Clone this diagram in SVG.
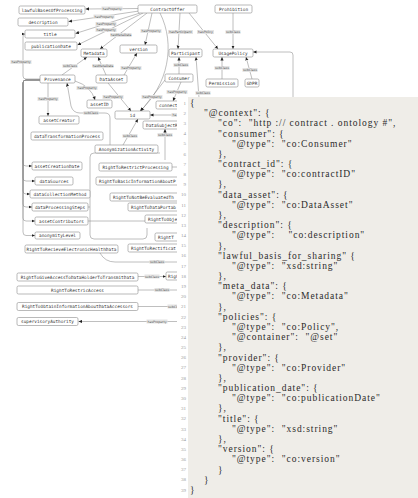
<svg xmlns="http://www.w3.org/2000/svg" width="418" height="498" viewBox="0 0 418 498">
<defs>
<marker id="arr" markerUnits="userSpaceOnUse" markerWidth="4" markerHeight="4" refX="3.5" refY="2" orient="auto"><path d="M0,0.4 L3.5,2 L0,3.6 z" fill="#222"/></marker>
<style>
.n rect{fill:#fff;stroke:#8c8c8c;stroke-width:0.6}
.n text{font-family:"DejaVu Sans Mono",monospace;font-size:4.4px;fill:#333;text-anchor:middle;dominant-baseline:central}
.n text.cut{text-anchor:start}
.e path{fill:none;stroke:#8a8a8a;stroke-width:0.55;marker-end:url(#arr)}
.e path.plain{marker-end:none}
.l rect{fill:#e4e4e4}
.l text{font-family:"DejaVu Sans",sans-serif;font-size:3.2px;fill:#555;text-anchor:middle;dominant-baseline:central}
.code text{font-family:"Liberation Serif",serif;font-size:9.5px;fill:#2b2b2b;letter-spacing:0.95px;white-space:pre}
.ln text{font-family:"Liberation Serif",serif;font-size:5px;fill:#9a9a9a;text-anchor:end}
</style>
</defs>
<rect width="418" height="498" fill="#fff"/>

<!-- connectors -->
<g id="connectors" class="e">
<path d="M138,8.5 L85.5,9"/>
<path d="M139,11 L68.5,21.5"/>
<path d="M140,13 L75.5,33.5"/>
<path d="M143,13 L77.5,45"/>
<path d="M147,13 L100,49"/>
<path d="M152,13 L145,45"/>
<path d="M180,13 L178,49"/>
<path d="M189,13 L218,49"/>
<path d="M160,13 C176,45 168,85 140,111"/>
<path d="M233,13 L233,49"/>
<path d="M222,79 L222,57"/>
<path d="M252,79 L246,57"/>
<path d="M293,98 L293,55 Q293,52 290,52 L253,52"/>
<path d="M179,74 L179,57"/>
<path d="M199,98 L196,57"/>
<path d="M165,80 L141,111"/>
<path d="M181,82 L173,101"/>
<path d="M178,115 L150,115"/>
<path d="M106,75 L98,57"/>
<path d="M62,75 L87,57"/>
<path d="M124,75 L137,53"/>
<path d="M75,81 Q91,86 95,100"/>
<path d="M108,83 L131,111"/>
<path d="M48,83 L48,116"/>
<path d="M110,145 L110,118 Q110,113 105,113 L80,113 Q73,113 71,106 L67,83"/>
<path d="M40,79 L26,79 Q23,79 23,76 L23,37 Q23,34 25,34"/>
<path d="M40,80 L26,80 Q23,80 23,83 L23,163 Q23,166 26,166 L32,166"/>
<path d="M40,80 L26,80 Q23,80 23,83 L23,178 Q23,181 26,181 L35,181"/>
<path d="M40,80 L26,80 Q23,80 23,83 L23,191 Q23,194 26,194 L30,194"/>
<path d="M40,80 L26,80 Q23,80 23,83 L23,204 Q23,207 26,207 L32,207"/>
<path d="M40,80 L26,80 Q23,80 23,83 L23,218 Q23,221 26,221 L35,221"/>
<path d="M40,80 L26,80 Q23,80 23,83 L23,232 Q23,235.5 26,235.5 L35,235.5"/>
<path d="M123,145 L138,119"/>
<path d="M165,160 L165,129"/>
<path class="plain" d="M160,153 L94,153 Q90,153 90,157 L90,235 Q90,239 94,239 L143,239 Q147,239 147,235 L147,228"/>
<path class="plain" d="M88,207 L90,207"/>
<path class="plain" d="M88,221 L178,221"/>
<path class="plain" d="M172,167 L178,167"/>
<path class="plain" d="M100,253 Q105,262 115,262 L178,262"/>
<path d="M138,276.5 L166,276.5"/>
<path class="plain" d="M138,290 L178,290"/>
<path class="plain" d="M138,306.5 L178,306.5"/>
<path d="M178,321.5 L78.5,321.5"/>
</g>

<!-- connector labels -->
<g id="labels" class="l">
<g><rect x="101.5" y="6.5" width="21" height="4"/><text x="112" y="8.5">hasProperty</text></g>
<g><rect x="93.5" y="14.5" width="21" height="4"/><text x="104" y="16.5">hasProperty</text></g>
<g><rect x="95.5" y="22" width="21" height="4"/><text x="106" y="24">hasProperty</text></g>
<g><rect x="95.5" y="28" width="21" height="4"/><text x="106" y="30">hasProperty</text></g>
<g><rect x="110.5" y="33" width="21" height="4"/><text x="121" y="35">hasMetaData</text></g>
<g><rect x="140.5" y="29" width="21" height="4"/><text x="151" y="31">hasProperty</text></g>
<g><rect x="168" y="30" width="25" height="4"/><text x="180.5" y="32">hasParticipant</text></g>
<g><rect x="197" y="30" width="17" height="4"/><text x="205.5" y="32">hasPolicy</text></g>
<g><rect x="225.5" y="30" width="15" height="4"/><text x="233" y="32">subClass</text></g>
<g><rect x="214.5" y="66" width="15" height="4"/><text x="222" y="68">subClass</text></g>
<g><rect x="242.5" y="68" width="15" height="4"/><text x="250" y="70">subClass</text></g>
<g><rect x="173.5" y="63" width="15" height="4"/><text x="181" y="65">subClass</text></g>
<g><rect x="195.5" y="91" width="15" height="4"/><text x="203" y="93">subClass</text></g>
<g><rect x="141.5" y="95" width="21" height="4"/><text x="152" y="97">hasProperty</text></g>
<g><rect x="166.5" y="90" width="21" height="4"/><text x="177" y="92">hasProperty</text></g>
<g><rect x="171.5" y="113" width="6" height="4"/><text x="174.5" y="115">ha</text></g>
<g><rect x="92.5" y="64" width="21" height="4"/><text x="103" y="66">hasMetaData</text></g>
<g><rect x="62.5" y="64" width="15" height="4"/><text x="70" y="66">subClass</text></g>
<g><rect x="120.5" y="66" width="21" height="4"/><text x="131" y="68">hasProperty</text></g>
<g><rect x="76.5" y="86" width="21" height="4"/><text x="87" y="88">hasProperty</text></g>
<g><rect x="102.5" y="95" width="21" height="4"/><text x="113" y="97">hasProperty</text></g>
<g><rect x="37.5" y="97" width="21" height="4"/><text x="48" y="99">hasProperty</text></g>
<g><rect x="83.5" y="111" width="15" height="4"/><text x="91" y="113">subClass</text></g>
<g><rect x="10.5" y="60" width="21" height="4"/><text x="21" y="62">hasProperty</text></g>
<g><rect x="122.5" y="134" width="15" height="4"/><text x="130" y="136">subClass</text></g>
<g><rect x="157.5" y="133" width="15" height="4"/><text x="165" y="135">subClass</text></g>
<g><rect x="149.5" y="260" width="15" height="4"/><text x="157" y="262">subClass</text></g>
<g><rect x="144.5" y="274.5" width="15" height="4"/><text x="152" y="276.5">subClass</text></g>
<g><rect x="154.5" y="288" width="15" height="4"/><text x="162" y="290">subClass</text></g>
<g><rect x="167.5" y="304.5" width="15" height="4"/><text x="175" y="306.5">subClass</text></g>
<g><rect x="146.5" y="319.5" width="21" height="4"/><text x="157" y="321.5">hasProperty</text></g>
</g>

<!-- nodes -->
<g id="ContractOffer" class="n"><rect x="138" y="5" width="59" height="8" rx="1.5"/><text x="167.5" y="9">ContractOffer</text></g>
<g id="Prohibition" class="n"><rect x="215" y="5" width="37" height="8" rx="1.5"/><text x="233.5" y="9">Prohibition</text></g>
<g id="lawfulBasesOfProcessing" class="n"><rect x="19" y="6" width="66" height="8" rx="1.5"/><text x="52" y="10">lawfulBasesOfProcessing</text></g>
<g id="description" class="n"><rect x="18" y="18" width="50" height="8" rx="1.5"/><text x="43" y="22">description</text></g>
<g id="title" class="n"><rect x="25" y="30" width="50" height="8" rx="1.5"/><text x="50" y="34">title</text></g>
<g id="publicationDate" class="n"><rect x="25" y="42" width="52" height="8" rx="1.5"/><text x="51" y="46">publicationDate</text></g>
<g id="version" class="n"><rect x="120" y="45" width="37" height="8" rx="1.5"/><text x="138.5" y="49">version</text></g>
<g id="Metadata" class="n"><rect x="81" y="49" width="26" height="8" rx="1.5"/><text x="94" y="53">Metadata</text></g>
<g id="Participant" class="n"><rect x="169" y="49" width="33" height="8" rx="1.5"/><text x="185.5" y="53">Participant</text></g>
<g id="UsagePolicy" class="n"><rect x="213" y="49" width="40" height="8" rx="1.5"/><text x="233" y="53">UsagePolicy</text></g>
<g id="Consumer" class="n"><rect x="165" y="74" width="28" height="8" rx="1.5"/><text x="179" y="78">Consumer</text></g>
<g id="Provenance" class="n"><rect x="40" y="75" width="35" height="8" rx="1.5"/><text x="57.5" y="79">Provenance</text></g>
<g id="DataAsset" class="n"><rect x="96" y="75" width="31" height="8" rx="1.5"/><text x="111.5" y="79">DataAsset</text></g>
<g id="Permission" class="n"><rect x="206" y="79" width="32" height="8" rx="1.5"/><text x="222" y="83">Permission</text></g>
<g id="GDPR" class="n"><rect x="245" y="79" width="14" height="8" rx="1.5"/><text x="252" y="83">GDPR</text></g>
<g id="assetID" class="n"><rect x="87" y="100" width="25" height="8" rx="1.5"/><text x="99.5" y="104">assetID</text></g>
<g id="connect" class="n"><rect x="156" y="101" width="40" height="8" rx="1.5"/><text class="cut" x="159" y="105">connect</text></g>
<g id="id" class="n"><rect x="115" y="111" width="35" height="8" rx="1.5"/><text x="132.5" y="115">id</text></g>
<g id="assetCreator" class="n"><rect x="39" y="116" width="40" height="8" rx="1.5"/><text x="59" y="120">assetCreator</text></g>
<g id="DataSubjectRights" class="n"><rect x="143" y="121" width="40" height="8" rx="1.5"/><text class="cut" x="146" y="125">DataSubjectR</text></g>
<g id="dataTransformationProcess" class="n"><rect x="31" y="132" width="72" height="8" rx="1.5"/><text x="67" y="136">dataTransformationProcess</text></g>
<g id="AnonymizationActivity" class="n"><rect x="95" y="145" width="63" height="8" rx="1.5"/><text x="126.5" y="149">AnonymizationActivity</text></g>
<g id="assetCreationDate" class="n"><rect x="32" y="162" width="50" height="8" rx="1.5"/><text x="57" y="166">assetCreationDate</text></g>
<g id="RightToRestrictProcessing" class="n"><rect x="99" y="163" width="73" height="8" rx="1.5"/><text x="135.5" y="167">RightToRestrictProcessing</text></g>
<g id="dataSources" class="n"><rect x="35" y="177" width="38" height="8" rx="1.5"/><text x="54" y="181">dataSources</text></g>
<g id="RightToBasicInformation" class="n"><rect x="96" y="177" width="90" height="8" rx="1.5"/><text class="cut" x="99" y="181">RightToBasicInformationAboutP</text></g>
<g id="dataCollectionMethod" class="n"><rect x="30" y="190" width="60" height="8" rx="1.5"/><text x="60" y="194">dataCollectionMethod</text></g>
<g id="RightToNotBeEvaluated" class="n"><rect x="110" y="193" width="75" height="8" rx="1.5"/><text class="cut" x="113" y="197">RightToNotBeEvaluatedTh</text></g>
<g id="dataProcessingSteps" class="n"><rect x="32" y="203" width="56" height="8" rx="1.5"/><text x="60" y="207">dataProcessingSteps</text></g>
<g id="RightToDataPortability" class="n"><rect x="128" y="203" width="58" height="8" rx="1.5"/><text class="cut" x="131" y="207">RightToDataPortab</text></g>
<g id="RightToObject" class="n"><rect x="145" y="215" width="40" height="8" rx="1.5"/><text class="cut" x="148" y="219">RightToObje</text></g>
<g id="assetContributors" class="n"><rect x="35" y="217" width="53" height="8" rx="1.5"/><text x="61.5" y="221">assetContributors</text></g>
<g id="anonymityLevel" class="n"><rect x="35" y="232" width="45" height="7" rx="1.5"/><text x="57.5" y="235.5">anonymityLevel</text></g>
<g id="RightT" class="n"><rect x="155" y="233" width="30" height="8" rx="1.5"/><text class="cut" x="158" y="237">RightT</text></g>
<g id="RightToRectification" class="n"><rect x="128" y="244" width="58" height="8" rx="1.5"/><text class="cut" x="131" y="248">RightToRectificat</text></g>
<g id="RightToRecieveElectronicHealthData" class="n"><rect x="25" y="245" width="93" height="8" rx="1.5"/><text x="71.5" y="249">RightToRecieveElectronicHealthData</text></g>
<g id="RightToGiveAccessToDataHolderToTransmitData" class="n"><rect x="17" y="273" width="121" height="8" rx="1.5"/><text x="77.5" y="277">RightToGiveAccessToDataHolderToTransmitData</text></g>
<g id="Right" class="n"><rect x="166" y="272" width="20" height="8" rx="1.5"/><text class="cut" x="168" y="276">Right</text></g>
<g id="RightToRestricAccess" class="n"><rect x="17" y="286" width="121" height="8" rx="1.5"/><text x="77.5" y="290">RightToRestricAccess</text></g>
<g id="RightToObtainInformationAboutDataAccessors" class="n"><rect x="17" y="302.5" width="121" height="8" rx="1.5"/><text x="77.5" y="306.5">RightToObtainInformationAboutDataAccessors</text></g>
<g id="supervisoryAuthority" class="n"><rect x="17" y="317.5" width="61" height="8" rx="1.5"/><text x="47.5" y="321.5">supervisoryAuthority</text></g>

<!-- JSON-LD context listing -->
<rect x="177" y="97" width="11" height="401" fill="#fff"/>
<rect x="188" y="97" width="230" height="401" fill="#efede8"/>
<g class="ln">
<text x="186" y="104.7">1</text><text x="186" y="114.9">2</text><text x="186" y="125.1">3</text><text x="186" y="135.2">4</text><text x="186" y="145.4">5</text><text x="186" y="155.6">6</text><text x="186" y="165.8">7</text><text x="186" y="176">8</text><text x="186" y="186.1">9</text><text x="186" y="196.3">10</text><text x="186" y="206.5">11</text><text x="186" y="216.7">12</text><text x="186" y="226.9">13</text><text x="186" y="237">14</text><text x="186" y="247.2">15</text><text x="186" y="257.4">16</text><text x="186" y="267.6">17</text><text x="186" y="277.8">18</text><text x="186" y="287.9">19</text><text x="186" y="298.1">20</text><text x="186" y="308.3">21</text><text x="186" y="318.5">22</text><text x="186" y="328.7">23</text><text x="186" y="338.8">24</text><text x="186" y="349">25</text><text x="186" y="359.2">26</text><text x="186" y="369.4">27</text><text x="186" y="379.6">28</text><text x="186" y="389.7">29</text><text x="186" y="399.9">30</text><text x="186" y="410.1">31</text><text x="186" y="420.3">32</text><text x="186" y="430.5">33</text><text x="186" y="440.6">34</text><text x="186" y="450.8">35</text><text x="186" y="461">36</text><text x="186" y="471.2">37</text><text x="186" y="481.4">38</text><text x="186" y="491.5">39</text>
</g>
<g class="code" xml:space="preserve">
<text x="190" y="106">{</text>
<text x="204" y="116.2">"@context": {</text>
<text x="218" y="126.4">"co":  "http :// contract . ontology #",</text>
<text x="218" y="136.5">"consumer": {</text>
<text x="232" y="146.7">"@type":  "co:Consumer"</text>
<text x="218" y="156.9">},</text>
<text x="218" y="167.1">"contract_id": {</text>
<text x="232" y="177.3">"@type":  "co:contractID"</text>
<text x="218" y="187.4">},</text>
<text x="218" y="197.6">"data_asset": {</text>
<text x="232" y="207.8">"@type":  "co:DataAsset"</text>
<text x="218" y="218">},</text>
<text x="218" y="228.2">"description": {</text>
<text x="232" y="238.3">"@type":    "co:description"</text>
<text x="218" y="248.5">},</text>
<text x="218" y="258.7">"lawful_basis_for_sharing" {</text>
<text x="232" y="268.9">"@type":  "xsd:string"</text>
<text x="218" y="279.1">},</text>
<text x="218" y="289.2">"meta_data": {</text>
<text x="232" y="299.4">"@type":  "co:Metadata"</text>
<text x="218" y="309.6">},</text>
<text x="218" y="319.8">"policies": {</text>
<text x="232" y="330">"@type":  "co:Policy",</text>
<text x="232" y="340.1">"@container":  "@set"</text>
<text x="218" y="350.3">},</text>
<text x="218" y="360.5">"provider": {</text>
<text x="232" y="370.7">"@type":  "co:Provider"</text>
<text x="218" y="380.9">},</text>
<text x="218" y="391">"publication_date": {</text>
<text x="232" y="401.2">"@type":  "co:publicationDate"</text>
<text x="218" y="411.4">},</text>
<text x="218" y="421.6">"title": {</text>
<text x="232" y="431.8">"@type":  "xsd:string"</text>
<text x="218" y="441.9">},</text>
<text x="218" y="452.1">"version": {</text>
<text x="232" y="462.3">"@type":  "co:version"</text>
<text x="218" y="472.5">}</text>
<text x="204" y="482.7">}</text>
<text x="190" y="492.8">}</text>
</g>
</svg>
